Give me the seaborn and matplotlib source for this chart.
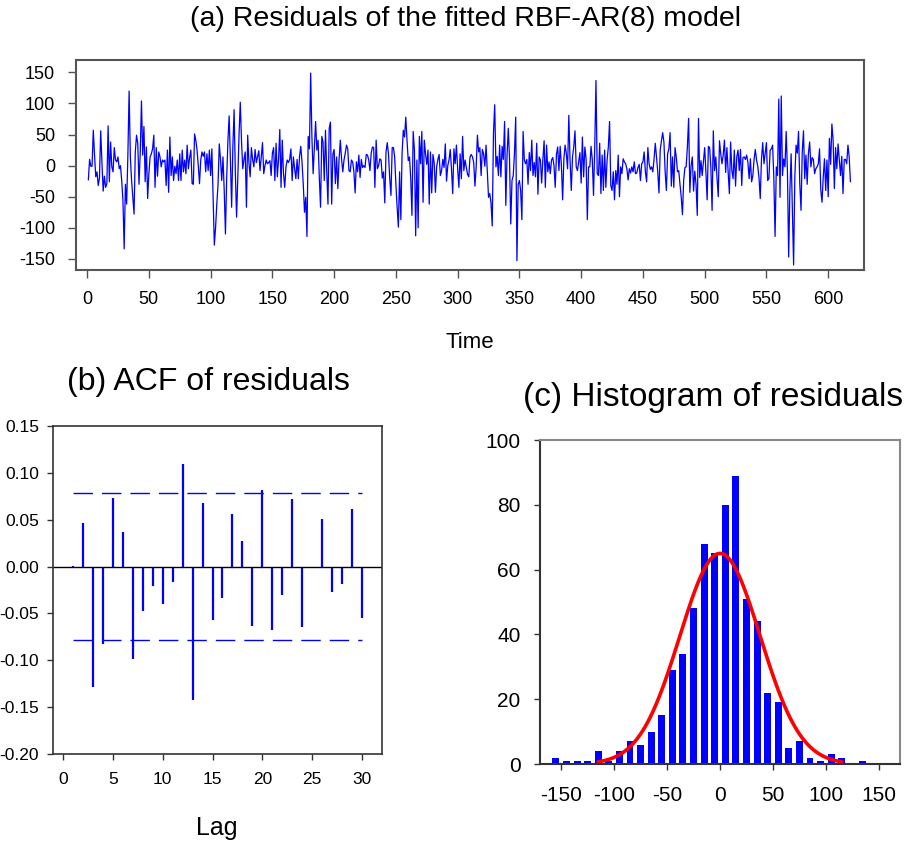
import numpy as np
import pandas as pd
import matplotlib
matplotlib.use("Agg")
import matplotlib.pyplot as plt
import seaborn as sns

# ---------------- data ----------------
residuals = [
    -23, 10, -1, -1, 57, 17, -18, -10, -32, -20,
    56, 5, -41, -17, -35, -29, 64, -26, 38, -2,
    -10, 29, 9, 6, 14, -5, 0, -24, -56, -134,
    -30, -62, 17, 120, 14, -24, -50, -78, 22, 49,
    36, -30, 20, 104, 17, 63, -26, 30, -53, -13,
    14, 19, 27, 49, -35, 29, -17, 22, 14, -2,
    9, 6, 9, -32, 25, -43, 46, -16, 14, -24,
    -1, -13, 9, -24, 19, -24, 25, -10, 9, -13,
    33, -5, 13, 25, -29, -30, 51, 41, 25, 0,
    -29, 9, 22, 15, 22, -10, 19, -8, 25, -16,
    27, -51, -128, -100, -62, -30, 35, 10, -24, 14,
    -40, -110, -20, 40, 80, 10, -67, 30, 90, -10,
    -83, -20, 50, 102, 40, -5, 10, 22, -67, 49,
    5, -18, 29, 10, -2, 26, 5, 14, 24, -8,
    15, 37, -13, 0, 9, 3, 5, 8, -16, 20,
    29, -24, 36, -18, 10, 58, -35, 41, -13, -35,
    -2, 9, 5, 10, 27, -24, 14, -5, -21, 10,
    -21, 15, 31, 5, -30, -75, -51, -114, 47, 27,
    149, 46, -13, 30, 71, 25, 41, -20, -67, 47,
    38, -24, 57, -10, -62, 60, 70, -62, 19, 26,
    -29, 14, -37, 10, 41, 11, -10, 9, 20, 33,
    27, -8, -10, 9, 6, -10, -44, 6, -10, 17,
    -19, 10, -3, 0, -3, 18, 17, 9, -8, 20,
    30, 29, -35, 41, -5, 0, 11, 9, -20, -10,
    -60, 22, 37, 19, -20, -48, 29, 29, 14, -30,
    -67, -99, -10, -87, 20, 57, 46, 78, 41, 8,
    14, -20, -80, 55, 25, -113, 9, -100, 47, 3,
    55, -59, 41, 19, 2, 25, -62, 22, -44, 18,
    5, -43, -2, 10, 18, -16, -8, 10, -3, 35,
    -25, 0, 9, 26, -5, -45, 27, 3, 33, -5,
    -35, 19, -21, 47, -8, 9, -2, -14, -18, 14,
    18, 14, 5, -33, -2, 49, 22, 29, -16, 26,
    19, -1, 33, -10, -51, -45, -60, -97, 52, 98,
    -2, 15, -16, 33, -18, 31, 10, 71, -64, 17,
    60, 10, -94, -24, -16, 20, 78, -153, -30, -24,
    -40, -87, 55, 9, 3, 10, -30, 21, -8, 41,
    -16, 5, -18, 36, -46, 14, 9, -28, 10, 40,
    -35, 33, -10, 6, -13, 9, 13, 0, -35, 18,
    30, -8, 31, 0, -55, 11, 33, 19, -5, 81,
    9, -40, 14, 30, 56, -2, -8, 6, 21, -28,
    46, -18, 30, 11, -87, -2, -2, 31, 10, -48,
    30, 137, -13, -16, 36, -45, 17, -40, 25, -35,
    9, 30, 71, -32, -40, -10, -55, -8, -30, 17,
    -50, -2, -13, 11, 6, 3, -5, -23, -5, -12,
    -2, -10, 6, -13, -12, -3, 2, -24, 3, 6,
    22, -10, -26, 29, 3, -6, -2, -10, 10, 36,
    14, -10, -44, 25, 40, 53, 38, -10, -40, 19,
    27, 53, -33, 14, -35, 29, 14, -10, -8, -30,
    -50, -79, -24, -3, -2, 30, 76, -43, 0, 14,
    -41, -9, -30, -80, 76, -19, 8, -16, 6, 29,
    -10, -55, 31, 29, -3, -72, 56, -8, 14, -20,
    -50, 40, 19, 3, 17, 41, -11, 29, -10, -45,
    38, -8, -21, 25, -33, 14, 25, -8, 26, -32,
    13, 14, 10, 17, 5, -21, 11, -26, -16, 10,
    26, 9, -1, -20, -53, 11, 37, 3, 20, 37,
    -24, -21, 25, 27, 33, -20, -114, -2, -16, 107,
    -51, 112, -16, 11, -2, 55, -8, -147, -40, 19,
    -70, -160, -18, 33, 20, 55, -29, -72, 22, 56,
    -21, 17, -30, 20, 38, -2, 13, 10, -13, -5,
    -2, 3, 27, -39, -59, -18, 11, -40, 9, -50,
    44, 2, 67, 41, -37, 29, -5, 35, 9, -16,
    15, -45, 10, 10, 3, 33, 14, -26,
]
time_index = list(range(1, len(residuals) + 1))

acf_lags = list(range(1, 31))
acf_values = [0.001, 0.046, -0.128, -0.083, 0.073, 0.037, -0.099, -0.047, -0.021, -0.040,
              -0.016, 0.109, -0.142, 0.068, -0.057, -0.034, 0.056, 0.027, -0.063, 0.082,
              -0.068, -0.030, 0.072, -0.064, 0.000, 0.051, -0.027, -0.019, 0.061, -0.055]
acf_bound = 0.0786

hist_centers = [-155, -145, -135, -125, -115, -105, -95, -85, -75, -65,
                -55, -45, -35, -25, -15, -5, 5, 15, 25, 35,
                45, 55, 65, 75, 85, 95, 105, 115, 125, 135]
hist_counts = [2, 1, 1, 1, 4, 1, 4, 7, 6, 10,
               15, 29, 34, 48, 68, 65, 80, 89, 51, 44,
               22, 19, 5, 7, 2, 1, 3, 2, 0, 1]
hist_edges = list(range(-160, 150, 10))

normal_mean = 0.0
normal_sd = 38.0
normal_peak = 65.0
normal_range = (-115, 115)

# ---------------- style ----------------
sns.set_theme(style="white")
plt.rcParams["font.family"] = ["Liberation Sans", "DejaVu Sans"]
plt.rcParams["axes.unicode_minus"] = False
plt.rcParams["text.color"] = "black"
plt.rcParams["xtick.color"] = "black"
plt.rcParams["ytick.color"] = "black"
plt.rcParams["xtick.labelcolor"] = "black"
plt.rcParams["ytick.labelcolor"] = "black"
spine_col = "#555555"

fig = plt.figure(figsize=(9.14, 8.44), dpi=100)
W, H = 914, 844


def px_axes(left, top, right, bottom):
    return fig.add_axes([left / W, 1 - bottom / H, (right - left) / W, (bottom - top) / H])


# ---------------- (a) residual series ----------------
ax1 = px_axes(76, 60, 864, 270)
df = pd.DataFrame({"Time": time_index, "Residual": residuals})
sns.lineplot(data=df, x="Time", y="Residual", ax=ax1, color="#0000FF", linewidth=0.9)
ax1.set_xlim(-9, 629)
ax1.set_ylim(-168, 170)
ax1.set_xticks(range(0, 601, 50))
ax1.set_yticks(range(-150, 151, 50))
ax1.set_xlabel("")
ax1.set_ylabel("")
ax1.tick_params(axis="both", direction="out", length=6, width=1, color=spine_col,
                labelsize=13, bottom=True, left=True)
ax1.tick_params(axis="x", pad=9)
ax1.tick_params(axis="y", pad=9)
for s in ax1.spines.values():
    s.set_color(spine_col)
    s.set_linewidth(1.5)
fig.text(466 / W, 1 - 19 / H, "(a) Residuals of the fitted RBF-AR(8) model",
         ha="center", va="center", fontsize=20.5)
fig.text(470 / W, 1 - 342 / H, "Time", ha="center", va="center", fontsize=16)

# ---------------- (b) ACF ----------------
ax2 = px_axes(53, 426, 382, 754)
ax2.vlines(acf_lags, 0, acf_values, color="#0000FF", linewidth=1.6)
ax2.axhline(0, color="black", linewidth=1.0)
ax2.hlines([acf_bound, -acf_bound], acf_lags[0], acf_lags[-1], color="#0000FF",
           linewidth=1.0, linestyles=(0, (14, 6.5)))
ax2.set_xlim(-1, 32)
ax2.set_ylim(-0.2, 0.15)
ax2.set_xticks(range(0, 31, 5))
acf_yt = [-0.20, -0.15, -0.10, -0.05, 0.00, 0.05, 0.10, 0.15]
ax2.set_yticks(acf_yt)
ax2.set_yticklabels([f"{v:.2f}" for v in acf_yt])
ax2.tick_params(axis="both", direction="out", length=4, width=1, color="#333333",
                labelsize=12.5, bottom=True, left=True)
ax2.tick_params(axis="x", pad=9)
ax2.tick_params(axis="y", pad=6)
for s in ax2.spines.values():
    s.set_color("#333333")
    s.set_linewidth(1.2)
fig.text(208 / W, 1 - 382 / H, "(b) ACF of residuals", ha="center", va="center", fontsize=23)
fig.text(217 / W, 1 - 828 / H, "Lag", ha="center", va="center", fontsize=18)

# ---------------- (c) histogram ----------------
ax3 = px_axes(540, 440, 900, 764)
sns.histplot(x=hist_centers, weights=hist_counts, bins=hist_edges, shrink=0.66,
             color="#0000FF", alpha=1.0, edgecolor="none", linewidth=0, ax=ax3)
xs = np.linspace(normal_range[0], normal_range[1], 300)
ys = normal_peak * np.exp(-0.5 * ((xs - normal_mean) / normal_sd) ** 2)
sns.lineplot(x=xs, y=ys, ax=ax3, color="#FF0000", linewidth=2.6)
ax3.set_xlim(-170, 170)
ax3.set_ylim(0, 100)
ax3.set_xticks(range(-150, 151, 50))
ax3.set_yticks(range(0, 101, 20))
ax3.set_xlabel("")
ax3.set_ylabel("")
ax3.tick_params(axis="both", direction="out", length=4, width=1, color="#333333",
                labelsize=15, bottom=True, left=True)
ax3.tick_params(axis="x", pad=12)
ax3.tick_params(axis="y", pad=10)
for name, s in ax3.spines.items():
    s.set_linewidth(1.5)
    s.set_color("#333333" if name in ("left", "bottom") else "#888888")
fig.text(713 / W, 1 - 398 / H, "(c) Histogram of residuals", ha="center", va="center", fontsize=24)

fig.savefig("out.png", dpi=100)
